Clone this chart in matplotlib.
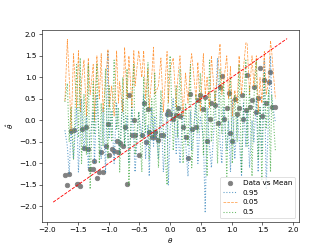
import matplotlib
matplotlib.use("Agg")
import matplotlib.pyplot as plt

# ===============================
# Data
# ===============================
THETA = [-1.71, -1.67, -1.64, -1.61, -1.57, -1.52, -1.49, -1.46, -1.44, -1.40,
         -1.36, -1.33, -1.30, -1.25, -1.23, -1.19, -1.15, -1.12, -1.09, -1.05,
         -1.01, -0.99, -0.95, -0.91, -0.87, -0.84, -0.82, -0.77, -0.74, -0.70,
         -0.67, -0.62, -0.59, -0.57, -0.51, -0.46, -0.43, -0.40, -0.36, -0.34,
         -0.30, -0.27, -0.25, -0.19, -0.15, -0.11, -0.05, -0.03, 0.0, 0.05,
         0.10, 0.12, 0.16, 0.21, 0.25, 0.29, 0.33, 0.35, 0.42, 0.45,
         0.49, 0.54, 0.57, 0.60, 0.64, 0.67, 0.73, 0.77, 0.81, 0.84,
         0.87, 0.92, 0.95, 0.98, 1.01, 1.05, 1.09, 1.12, 1.16, 1.19,
         1.23, 1.25, 1.29, 1.33, 1.36, 1.40, 1.43, 1.46, 1.49, 1.53,
         1.56, 1.60, 1.63, 1.65, 1.71]

MEAN = [-1.26, -1.50, -1.24, -0.25, -0.22, -1.47, -1.47, -1.52, -0.19, -0.65,
        -0.15, -0.67, -1.13, -1.13, -0.95, -1.33, -1.21, -0.73, -1.20, -0.59,
        -0.09, -0.80, -0.67, -0.71, -0.48, -0.74, -0.52, -0.60, -0.16, -1.47,
        0.59, -0.33, 0.0, -0.33, -0.81, -0.34, 0.41, -0.51, 0.26, -0.28,
        -0.38, -0.38, -0.26, -0.46, -0.34, -0.33, 0.14, 0.22, 0.15, 0.03,
        0.12, 0.29, 0.09, -0.15, -0.38, -0.88, 0.61, -0.20, -0.15, 0.47,
        0.58, 0.26, 0.55, -0.47, 0.04, 0.41, 0.36, -0.06, 0.77, 1.02,
        0.04, 0.29, 0.64, -0.30, -0.47, 0.50, 0.15, 0.28, 0.60, 0.04,
        0.24, 1.05, 0.32, 0.47, 0.77, 0.19, 0.53, 1.22, 0.10, 0.94,
        0.41, 0.89, 1.13, 0.30, 0.30]

Q95 = [-0.23, -0.6, -1.25, -0.2, -0.9, 0.3, -1.2, -0.3, 0.5, -0.7,
       0.1, -1.1, -0.4, 0.2, -1.0, 0.6, -0.5, -0.9, 0.3, -1.2,
       1.6, -0.4, 0.2, -1.0, 0.4, -0.3, -0.8, 0.5, -0.6, 0.1,
       -1.0, 0.3, -0.5, -1.2, 0.2, -0.4, 0.6, -0.9, -0.1, -1.3,
       0.3, -0.6, 0.1, -0.9, 0.4, -1.2, 0.2, -1.5, -0.2, 0.5,
       -0.8, 0.0, -1.0, 0.3, -0.5, -1.3, 0.2, -0.7, 0.4, -1.0,
       0.1, -0.4, -2.15, 0.3, -0.6, -1.1, 0.2, 1.45, -0.5, -1.0,
       0.3, -0.7, 0.0, -1.2, 0.5, -0.9, 0.1, -0.4, -1.3, 0.4,
       -0.6, 0.2, -1.1, 0.0, -0.5, 0.5, -1.2, 0.3, -0.8, 1.4,
       -1.6, 0.2, 1.5, 0.5, -0.05]

Q05 = [0.45, 1.88, 1.0, -0.25, 1.55, 0.3, 1.62, 0.2, 0.9, 1.40,
       0.1, 1.45, 0.6, 1.3, 0.0, 1.5, 0.5, 1.55, 0.2, 0.9,
       1.65, 0.3, 0.8, 0.1, 1.62, 0.4, 0.9, 0.2, 1.70, 0.5,
       1.5, 0.3, 1.62, 0.8, 1.62, 1.0, 1.62, 0.5, 1.2, 0.3,
       1.0, 1.7, 0.6, 0.8, 1.45, 0.2, 1.6, 0.4, 1.2, 1.45,
       0.3, 0.9, 1.5, 0.1, 1.1, 0.4, 1.3, 1.55, 0.5, 1.35,
       0.2, 1.55, 0.6, 1.0, 0.3, 1.5, 0.4, 1.1, 1.78, 0.6,
       0.9, 1.5, 0.5, 1.25, 0.1, 0.7, 0.4, 1.5, 0.6, 1.2,
       1.8, 1.8, 0.6, 1.5, 0.8, 1.5, 0.2, 1.0, 0.4, 1.6,
       0.6, 0.9, 1.85, 1.6, 0.5]

Q50 = [0.43, 0.86, -0.5, 0.3, -0.9, 1.3, -0.4, 1.45, -1.0, 0.6,
       -0.8, 1.3, -1.6, 0.9, -0.3, 1.3, -1.0, 0.4, -0.6, 1.2,
       -0.9, 0.8, -0.5, 1.4, -0.2, 0.3, -1.2, 1.0, -0.6, 1.2,
       -1.5, 0.6, 1.3, -0.8, 0.2, -1.2, 1.0, -0.3, 1.35, -0.9,
       0.5, -0.4, 1.1, -1.1, 0.7, -0.2, -1.5, 0.9, 1.5, -0.7,
       0.8, -0.4, 1.2, -1.0, 0.4, -0.6, 1.3, -1.1, 0.6, -0.3,
       1.1, -0.8, 0.5, -1.3, 1.4, -0.5, 0.7, -1.0, 1.2, -0.3,
       0.9, -1.3, 0.4, 1.0, -1.0, 0.6, -0.5, 1.3, -1.2, 0.2,
       1.4, -0.6, 0.8, -1.3, 0.5, 1.4, -0.9, 0.3, -1.4, 1.1,
       -0.2, 0.7, -1.2, 0.6, -0.7]

DIAG = [-1.9, 1.9]

# line styles per quantile: (data, linestyle, linewidth, alpha)
QUANTILES = {
    "0.95": (Q95, ":", 1.5, 0.7),
    "0.05": (Q05, "--", 1.0, 0.8),
    "0.5": (Q50, ":", 1.5, 0.7),
}

# ===============================
# Plot
# ===============================
fig, ax = plt.subplots(figsize=(6.4, 4.8), dpi=332 / 6.4)

ax.scatter(THETA, MEAN, color="grey", s=40, label="Data vs Mean")
for q, (vals, ls, lw, a) in QUANTILES.items():
    ax.plot(THETA, vals, linestyle=ls, linewidth=lw, alpha=a, label=q)
ax.plot(DIAG, DIAG, color="red", linestyle="--", linewidth=1.2)

ax.set_xlabel(r"$\theta$")
ax.set_ylabel(r"$\hat{\theta}$")
ax.legend(loc="lower right")

fig.savefig("out.png")
